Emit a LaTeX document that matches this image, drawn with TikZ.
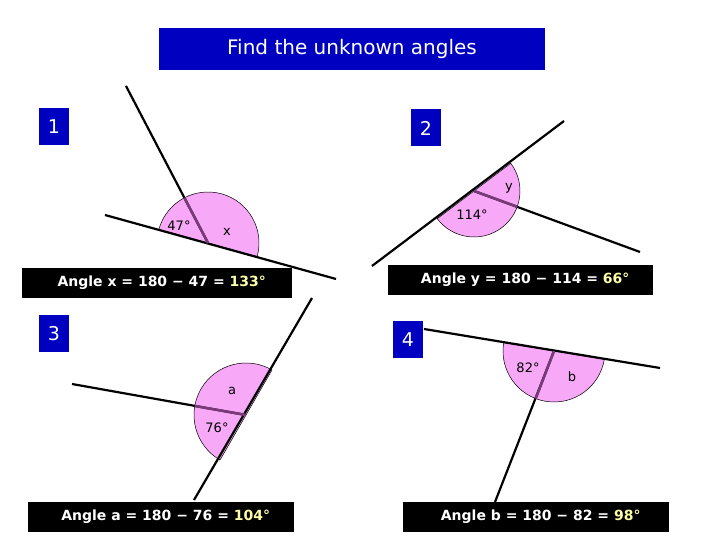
\documentclass[tikz,border=0pt]{standalone}
\usepackage{fontspec}
\setmainfont{DejaVu Sans}
\definecolor{bluebox}{HTML}{0000C0}
\definecolor{pinkf}{HTML}{F7A8F7}
\definecolor{purp}{HTML}{7A3A7A}
\definecolor{yel}{HTML}{FFFFA8}
\begin{document}
\begin{tikzpicture}[x=1pt,y=1pt,
  numbox/.style={fill=bluebox,text=white,font=\fontsize{19}{20}\selectfont,minimum width=30pt,minimum height=37pt,inner sep=0pt},
  ansbox/.style={fill=black,text=white,font=\fontsize{14}{16}\selectfont\bfseries,minimum height=30pt,inner sep=0pt,anchor=west},
  lin/.style={line width=2.2pt},
  pinkarc/.style={fill=pinkf,draw=black,line width=0.5pt},
  purpseg/.style={draw=purp,line width=2.6pt},
  lab/.style={font=\fontsize{13}{14}\selectfont}]
\useasboundingbox (0,0) rectangle (720,540);
\fill[white] (0,0) rectangle (720,540);
\node[fill=bluebox,text=white,font=\fontsize{20}{22}\selectfont,minimum width=386pt,minimum height=42pt,inner sep=0pt] (title) at (352,491) {Find the unknown angles};
% Q1
\coordinate (v1) at (208,297);
\coordinate (l1a) at (105,325); \coordinate (l1b) at (336,261); \coordinate (r1) at (126,454);
\filldraw[pinkarc] (v1) ++(-15.5:51) arc[start angle=-15.5,end angle=164.5,radius=51] -- cycle;
\draw[lin] (l1a) -- (l1b);
\draw[lin] (v1) -- (r1);
\draw[purpseg] (v1) -- ++(117.6:51);
\node[lab] (a47) at (179,314) {47°};
\node[lab] (ax) at (227,308) {x};
\node[numbox] (n1) at (54,413) {1};
\node[ansbox,minimum width=270pt] (ans1) at (22,257) {\hspace{9pt}Angle x = 180 − 47 = \textcolor{yel}{133°}\hfill};
% Q2
\coordinate (v2) at (474,349);
\coordinate (l2a) at (372,274); \coordinate (l2b) at (564,419); \coordinate (r2) at (640,288);
\filldraw[pinkarc] (v2) ++(217:46) arc[start angle=217,end angle=397,radius=46] -- cycle;
\draw[lin] (l2a) -- (l2b);
\draw[lin] (v2) -- (r2);
\draw[purpseg] (v2) -- ++(-20:46);
\node[lab] (a114) at (472,325) {114°};
\node[lab] (ay) at (509,352) {y};
\node[numbox] (n2) at (426,412) {2};
\node[ansbox,minimum width=265pt] (ans2) at (388,260) {\hspace{9pt}Angle y = 180 − 114 = \textcolor{yel}{66°}\hfill};
% Q3
\coordinate (v3) at (246,125);
\coordinate (l3a) at (194,40); \coordinate (l3b) at (312,242); \coordinate (r3) at (72,156);
\filldraw[pinkarc] (v3) ++(60:52) arc[start angle=60,end angle=240,radius=52] -- cycle;
\draw[lin] (l3a) -- (l3b);
\draw[lin] (v3) -- (r3);
\draw[purpseg] (v3) -- ++(170:52);
\node[lab] (aa) at (232,149) {a};
\node[lab] (a76) at (217,112) {76°};
\node[numbox] (n3) at (54,206) {3};
\node[ansbox,minimum width=266pt] (ans3) at (28,23) {\hspace{9pt}Angle a = 180 − 76 = \textcolor{yel}{104°}\hfill};
% Q4
\coordinate (v4) at (554,189);
\coordinate (l4a) at (424,211); \coordinate (l4b) at (660,172); \coordinate (r4) at (495,38);
\filldraw[pinkarc] (v4) ++(170.6:51) arc[start angle=170.6,end angle=350.6,radius=51] -- cycle;
\draw[lin] (l4a) -- (l4b);
\draw[lin] (v4) -- (r4);
\draw[purpseg] (v4) -- ++(-111:51);
\node[lab] (a82) at (528,172) {82°};
\node[lab] (ab) at (572,163) {b};
\node[numbox] (n4) at (408,200) {4};
\node[ansbox,minimum width=266pt] (ans4) at (403,23) {\hspace{9pt}Angle b = 180 − 82 = \textcolor{yel}{98°}\hfill};
\end{tikzpicture}
\end{document}
